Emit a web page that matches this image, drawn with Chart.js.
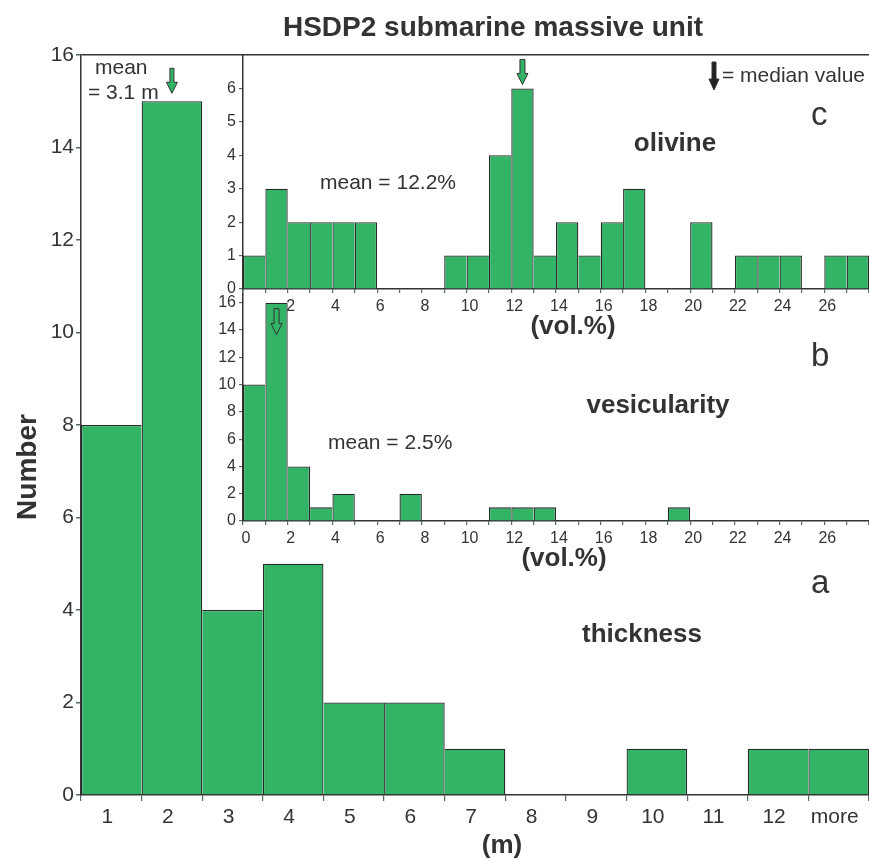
<!DOCTYPE html>
<html>
<head>
<meta charset="utf-8">
<script src="https://cdn.jsdelivr.net/npm/chart.js@4"></script>
<style>
html, body { margin: 0; padding: 0; background: #fff; overflow: hidden; }
#wrap { position: relative; width: 869px; height: 861px; overflow: hidden; }
#wrap canvas { position: absolute; left: 0; top: 0; }
</style>
</head>
<body>
<div id="wrap">
<canvas id="thicknessChart" width="869" height="861"></canvas>
<canvas id="vesicChart" width="873" height="861"></canvas>
<canvas id="olivineChart" width="873" height="861"></canvas>
</div>
<script>
// -----------------------------
// Data
// -----------------------------

// panel a: flow thickness (m)
const thicknessBins = ["1", "2", "3", "4", "5", "6", "7", "8", "9", "10", "11", "12", "more"];
const thicknessCounts = [8, 15, 4, 5, 2, 2, 1, 0, 0, 1, 0, 1, 1];
const thicknessMedianBin = "2";
const thicknessYTicks = [0, 2, 4, 6, 8, 10, 12, 14, 16];

// 1 vol.% bins, 0 to 28 (lower edge of each bin)
const volBinStarts = [0, 1, 2, 3, 4, 5, 6, 7, 8, 9, 10, 11, 12, 13, 14, 15, 16, 17, 18, 19, 20, 21, 22, 23, 24, 25, 26, 27];

// panel b: vesicularity
const vesicCounts = [10, 16, 4, 1, 2, 0, 0, 2, 0, 0, 0, 1, 1, 1, 0, 0, 0, 0, 0, 1, 0, 0, 0, 0, 0, 0, 0, 0];
const vesicMedian = 1.5;
const vesicXTicks = [0, 2, 4, 6, 8, 10, 12, 14, 16, 18, 20, 22, 24, 26];
const vesicYTicks = [0, 2, 4, 6, 8, 10, 12, 14, 16];

// panel c: olivine
const olivineCounts = [1, 3, 2, 2, 2, 2, 0, 0, 0, 1, 1, 4, 6, 1, 2, 1, 2, 3, 0, 0, 2, 0, 1, 1, 1, 0, 1, 1];
const olivineMedian = 12.5;
const olivineXTicks = [2, 4, 6, 8, 10, 12, 14, 16, 18, 20, 22, 24, 26];
const olivineYTicks = [0, 1, 2, 3, 4, 5, 6];

// -----------------------------
// Shared bits
// -----------------------------

const barGreen = "#32b366";
const edgeColor = "#2a2a2a";
const axisColor = "#333";
const tickMarkColor = "#556b5f";
const textColor = "#333";
const family = "'Liberation Sans', Arial, sans-serif";

// one dark line per bar boundary, like the original drawing
function edges(values) {
    return function (ctx) {
        const i = ctx.dataIndex;
        const v = values[i];
        if (!v) return 0;
        const prev = i > 0 ? values[i - 1] : 0;
        const next = i < values.length - 1 ? values[i + 1] : 0;
        const w = 1.3;
        return { top: w, bottom: 0, left: prev <= v ? w : 0, right: next < v ? w : 0 };
    };
}

function histDataset(values, points) {
    return {
        data: points,
        backgroundColor: barGreen,
        borderColor: edgeColor,
        borderWidth: edges(values),
        borderSkipped: false,
        inflateAmount: 0,
        barPercentage: 1,
        categoryPercentage: 1
    };
}

function text(ctx, str, x, y, size, bold, align) {
    ctx.save();
    ctx.font = (bold ? "bold " : "") + size + "px " + family;
    ctx.fillStyle = textColor;
    ctx.textAlign = align || "left";
    ctx.textBaseline = "alphabetic";
    ctx.fillText(str, x, y);
    ctx.restore();
}

function arrow(ctx, x, yTop, yTip, fill, shaft, head, headLen) {
    const sw = shaft / 2, hw = head / 2;
    ctx.save();
    ctx.beginPath();
    ctx.moveTo(x - sw, yTop);
    ctx.lineTo(x + sw, yTop);
    ctx.lineTo(x + sw, yTip - headLen);
    ctx.lineTo(x + hw, yTip - headLen);
    ctx.lineTo(x, yTip);
    ctx.lineTo(x - hw, yTip - headLen);
    ctx.lineTo(x - sw, yTip - headLen);
    ctx.closePath();
    ctx.fillStyle = fill;
    ctx.fill();
    ctx.lineWidth = 1;
    ctx.strokeStyle = "#333";
    ctx.stroke();
    ctx.restore();
}

function volXScale(labels) {
    return {
        type: "linear",
        min: 0,
        max: 28,
        offset: false,
        grid: { offset: false, drawOnChartArea: false, tickLength: 4, tickColor: tickMarkColor, lineWidth: 1.2 },
        border: { color: axisColor, width: 1.5 },
        ticks: {
            stepSize: 1,
            autoSkip: false,
            maxRotation: 0,
            padding: 4,
            labelOffset: 3,
            color: textColor,
            font: { family: family, size: 16 },
            callback: v => labels.includes(v) ? String(v) : ""
        },
        afterFit: s => { s.height = 30; }
    };
}

function volYScale(max, step, labels) {
    return {
        min: 0,
        max: max,
        grid: {
            drawOnChartArea: false,
            tickLength: 4,
            lineWidth: 1.2,
            tickColor: c => labels.includes(c.tick.value) ? tickMarkColor : "rgba(0,0,0,0)"
        },
        border: { color: axisColor, width: 1.5 },
        ticks: {
            stepSize: step,
            includeBounds: false,
            padding: 3,
            color: textColor,
            font: { family: family, size: 16 },
            callback: v => labels.includes(v) ? String(v) : ""
        },
        afterFit: s => { s.width = 40; }
    };
}

const quiet = { legend: { display: false }, tooltip: { enabled: false } };

// -----------------------------
// Panel a: thickness
// -----------------------------

const thicknessNotes = {
    id: "thicknessNotes",
    afterDraw(chart) {
        const ctx = chart.ctx;
        const x = chart.scales.x, y = chart.scales.y;

        text(ctx, "HSDP2 submarine massive unit", 493, 36, 28, true, "center");

        ctx.save();
        ctx.translate(36, 467);
        ctx.rotate(-Math.PI / 2);
        text(ctx, "Number", 0, 0, 28, true, "center");
        ctx.restore();

        text(ctx, "(m)", 502, 853, 26, true, "center");
        text(ctx, "mean", 95, 74, 21, false);
        text(ctx, "= 3.1 m", 88, 99, 21, false);
        text(ctx, "thickness", 642, 642, 26, true, "center");
        text(ctx, "a", 811, 593, 33, false);

        const i = thicknessBins.indexOf(thicknessMedianBin);
        const tip = y.getPixelForValue(thicknessCounts[i]) - 8;
        arrow(ctx, x.getPixelForValue(i), tip - 25, tip, barGreen, 4, 11, 11);
    }
};

new Chart(document.getElementById("thicknessChart"), {
    type: "bar",
    data: {
        labels: thicknessBins,
        datasets: [histDataset(thicknessCounts, thicknessCounts)]
    },
    options: {
        responsive: false,
        animation: false,
        layout: { padding: { top: 55, left: 0, right: 0, bottom: 0 } },
        plugins: quiet,
        scales: {
            x: {
                offset: true,
                grid: { offset: true, drawOnChartArea: false, tickLength: 6, tickColor: tickMarkColor, lineWidth: 1.2 },
                border: { color: axisColor, width: 1.5 },
                ticks: {
                    autoSkip: false,
                    maxRotation: 0,
                    padding: 4,
                    labelOffset: -4,
                    color: textColor,
                    font: { family: family, size: 21 }
                },
                afterFit: s => { s.height = 66; }
            },
            y: {
                min: 0,
                max: 16,
                grid: {
                    // only the top frame line is drawn across the plot
                    color: c => c.tick && c.tick.value === 16 ? axisColor : "rgba(0,0,0,0)",
                    lineWidth: 1.5,
                    tickLength: 5,
                    tickColor: tickMarkColor
                },
                border: { color: axisColor, width: 1.5 },
                ticks: {
                    stepSize: 2,
                    padding: 2,
                    color: textColor,
                    font: { family: family, size: 21 },
                    callback: v => thicknessYTicks.includes(v) ? String(v) : ""
                },
                afterFit: s => { s.width = 81; }
            }
        }
    },
    plugins: [thicknessNotes]
});

// -----------------------------
// Panel b: vesicularity
// -----------------------------

const vesicNotes = {
    id: "vesicNotes",
    afterDraw(chart) {
        const ctx = chart.ctx;
        const x = chart.scales.x, y = chart.scales.y;

        text(ctx, "(vol.%)", 564, 566, 26, true, "center");
        text(ctx, "vesicularity", 658, 413, 26, true, "center");
        text(ctx, "mean = 2.5%", 328, 449, 21, false);
        text(ctx, "b", 811, 366, 33, false);

        const top = y.getPixelForValue(vesicCounts[Math.floor(vesicMedian)]) + 6;
        arrow(ctx, x.getPixelForValue(vesicMedian), top, top + 26, barGreen, 5, 11, 11);
    }
};

new Chart(document.getElementById("vesicChart"), {
    type: "bar",
    data: {
        datasets: [histDataset(vesicCounts, vesicCounts.map((v, i) => ({ x: volBinStarts[i] + 0.5, y: v })))]
    },
    options: {
        responsive: false,
        animation: false,
        layout: { padding: { top: 289, left: 203, right: 0, bottom: 310 } },
        plugins: quiet,
        scales: {
            x: volXScale(vesicXTicks),
            y: volYScale(17, 2, vesicYTicks)
        }
    },
    plugins: [vesicNotes]
});

// -----------------------------
// Panel c: olivine
// -----------------------------

const olivineNotes = {
    id: "olivineNotes",
    afterDraw(chart) {
        const ctx = chart.ctx;
        const x = chart.scales.x, y = chart.scales.y;

        text(ctx, "(vol.%)", 573, 334, 26, true, "center");
        text(ctx, "olivine", 675, 151, 26, true, "center");
        text(ctx, "mean = 12.2%", 320, 189, 21, false);
        text(ctx, "c", 811, 125, 33, false);

        const tip = y.getPixelForValue(olivineCounts[Math.floor(olivineMedian)]) - 4;
        arrow(ctx, x.getPixelForValue(olivineMedian), tip - 25, tip, barGreen, 5, 11, 11);

        // key
        arrow(ctx, 714, 62, 90, "#222", 4, 10, 11);
        text(ctx, "= median value", 722, 82, 21, false);
    }
};

new Chart(document.getElementById("olivineChart"), {
    type: "bar",
    data: {
        datasets: [histDataset(olivineCounts, olivineCounts.map((v, i) => ({ x: volBinStarts[i] + 0.5, y: v })))]
    },
    options: {
        responsive: false,
        animation: false,
        layout: { padding: { top: 55, left: 203, right: 0, bottom: 542 } },
        plugins: quiet,
        scales: {
            x: volXScale(olivineXTicks),
            y: volYScale(7, 1, olivineYTicks)
        }
    },
    plugins: [olivineNotes]
});
</script>
</body>
</html>
